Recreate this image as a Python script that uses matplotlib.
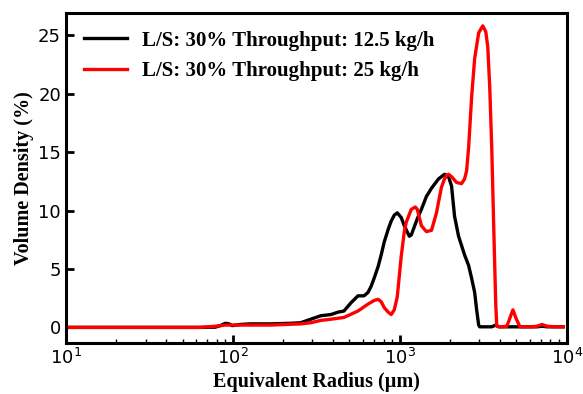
import matplotlib
matplotlib.use("Agg")
import matplotlib.pyplot as plt

# radius (um) and volume density (%)
r_black = [10, 63.7, 78.5, 84.1, 90.2, 95, 99.3, 110.9, 127.4, 168, 222, 255, 293, 337,
           387, 426, 463, 510, 562, 611, 646, 673, 702, 742, 774, 807, 853, 889, 927,
           966, 1021, 1065, 1141, 1172, 1222, 1274, 1348, 1444, 1549, 1706, 1854, 1959,
           2043, 2130, 2251, 2346, 2445, 2586, 2695, 2810, 2889, 2970, 3013, 3276, 3557,
           3759, 3900, 6642, 7116, 7631, 9531]
v_black = [0, 0, 0.02, 0.15, 0.35, 0.3, 0.15, 0.25, 0.3, 0.3, 0.35, 0.4, 0.7, 1.0,
           1.1, 1.3, 1.4, 2.1, 2.7, 2.7, 3.0, 3.5, 4.2, 5.2, 6.2, 7.3, 8.4, 9.1, 9.6,
           9.8, 9.4, 8.7, 7.8, 7.9, 8.6, 9.3, 10.1, 11.2, 11.9, 12.7, 13.1, 12.9,
           12.1, 9.5, 7.8, 7.0, 6.2, 5.3, 4.2, 3.0, 1.5, 0.2, 0.05, 0.05, 0.05,
           0.2, 0.05, 0.05, 0.1, 0.05, 0.05]

r_red = [10, 63.7, 78.5, 90.2, 110.9, 168, 255, 293, 337, 387, 463, 562, 646, 702,
         742, 774, 807, 853, 889, 927, 966, 1021, 1065, 1094, 1172, 1240, 1274, 1348,
         1444, 1549, 1660, 1706, 1778, 1854, 1905, 1959, 2043, 2190, 2346, 2445, 2515,
         2586, 2695, 2810, 2970, 3142, 3276, 3368, 3461, 3557, 3657, 3759, 3812, 4084,
         4381, 4570, 4763, 4966, 5248, 6200, 6642, 7116, 7631, 8500, 9531]
v_red = [0, 0, 0.1, 0.2, 0.2, 0.2, 0.3, 0.4, 0.6, 0.7, 0.85, 1.4, 2.0, 2.3,
         2.4, 2.2, 1.7, 1.3, 1.1, 1.5, 2.6, 6.1, 8.2, 9.0, 10.1, 10.3, 10.1, 8.7,
         8.2, 8.3, 9.8, 10.7, 12.0, 12.7, 13.0, 13.1, 12.9, 12.4, 12.3, 12.7, 13.4,
         15.4, 19.7, 23.0, 25.2, 25.8, 25.3, 24.0, 20.5, 15.4, 8.5, 2.0, 0.1, 0.05,
         0.1, 0.8, 1.5, 0.8, 0.05, 0.05, 0.1, 0.25, 0.1, 0.05, 0.05]

labels = ["L/S: 30% Throughput: 12.5 kg/h", "L/S: 30% Throughput: 25 kg/h"]

fig = plt.figure(figsize=(5.83, 3.94), dpi=100)
ax = fig.add_axes([0.113, 0.129, 0.859, 0.838])

ax.plot(r_black, v_black, color="black", lw=2.4, label=labels[0])
ax.plot(r_red, v_red, color="red", lw=2.4, label=labels[1])

ax.set_xscale("log")
ax.set_xlim(10, 1e4)
ax.set_ylim(-1.35, 26.9)
ax.set_yticks([0, 5, 10, 15, 20, 25])

for s in ax.spines.values():
    s.set_linewidth(2.2)
ax.tick_params(which="major", direction="in", length=6, width=2, labelsize=13,
               top=False, right=False)
ax.tick_params(which="minor", direction="in", length=3, width=1, top=False, right=False)

bold = {"family": "Liberation Serif", "weight": "bold", "size": 14.5}
ax.set_xlabel("Equivalent Radius (\u00b5m)", fontdict=bold, labelpad=3)
ax.set_ylabel("Volume Density (%)", fontdict=bold, labelpad=3)

ax.legend(loc="upper left", frameon=False, handlelength=2.1, handletextpad=0.7,
          borderaxespad=0.45,
          prop={"family": "Liberation Serif", "weight": "bold", "size": 15})

fig.savefig("out.png", dpi=100)
plt.close(fig)
